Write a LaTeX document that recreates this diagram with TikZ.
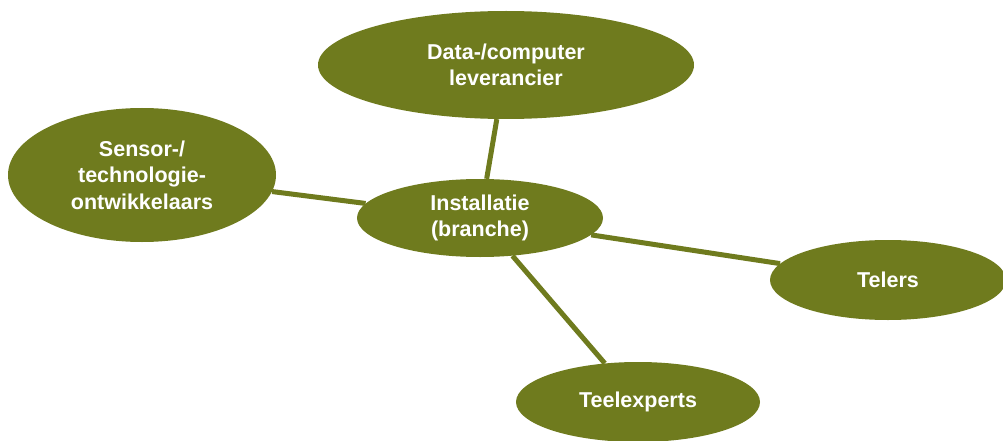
\documentclass[tikz,border=0pt]{standalone}
\usepackage{fontspec}
\setmainfont{Liberation Sans}
\usetikzlibrary{shapes.geometric}
\definecolor{olive}{HTML}{6F7B1E}
\begin{document}
\begin{tikzpicture}[x=1pt,y=-1pt,
  blob/.style={ellipse, fill=olive, draw=none, inner sep=0pt,
    text=white, font=\fontsize{21.5}{26.5}\selectfont\bfseries, align=center},
  link/.style={draw=olive, line width=5pt}]
\useasboundingbox (0,0) rectangle (1003,441);
% partner ellipses around the central hub
\node[blob, minimum width=376pt, minimum height=108pt] (data) at (506,65) {Data-/computer\\leverancier};
\node[blob, minimum width=268pt, minimum height=134pt] (sensor) at (142,175) {Sensor-/\\technologie-\\ontwikkelaars};
\node[blob, minimum width=236pt, minimum height=80pt] (telers) at (888,280) {Telers};
\node[blob, minimum width=244pt, minimum height=80pt] (teel) at (638,402) {Teelexperts};
\node[blob, minimum width=246pt, minimum height=78pt] (inst) at (480,218) {Installatie\\(branche)};
% spokes from the hub to each partner, drawn between the rims
\draw[link] (inst) -- (data);
\draw[link] (inst) -- (sensor);
\draw[link] (inst) -- (telers);
\draw[link] (inst) -- (teel);
\end{tikzpicture}
\end{document}
